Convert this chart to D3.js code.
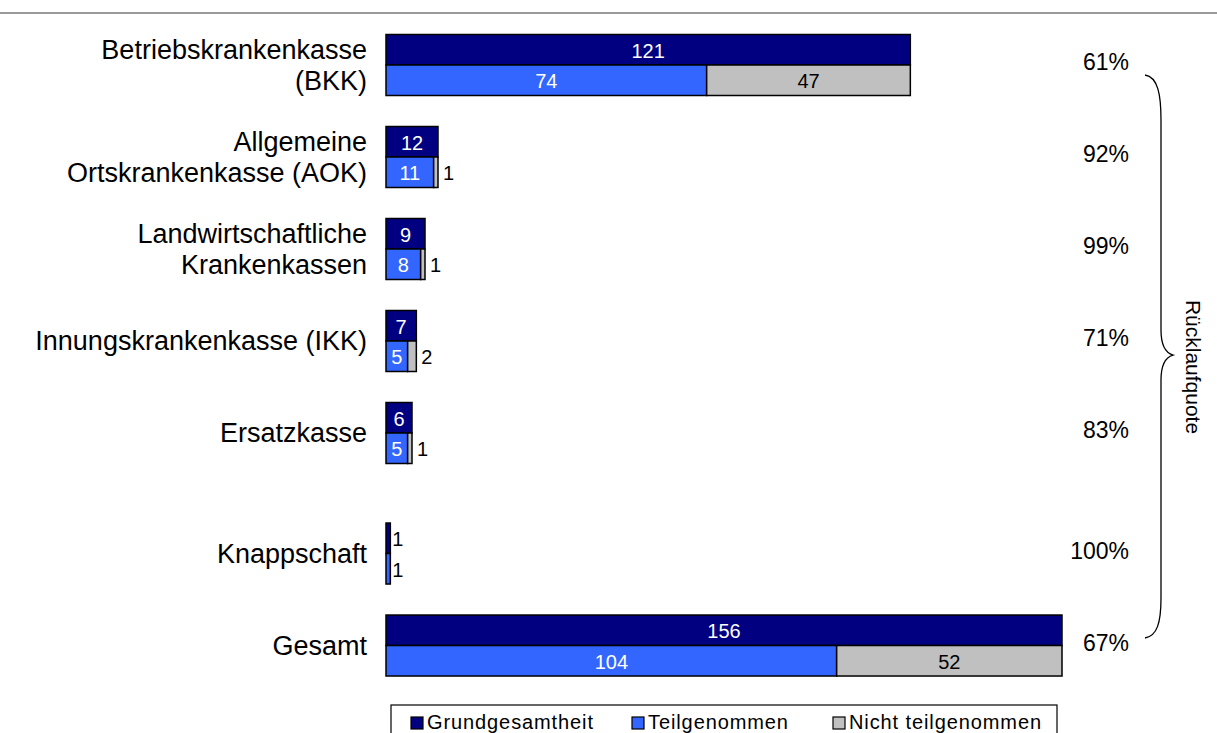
<!DOCTYPE html>
<html>
<head>
<meta charset="utf-8">
<script src="https://cdn.jsdelivr.net/npm/d3@7"></script>
<style>
  html, body { margin: 0; padding: 0; background: #fff; }
  svg { display: block; font-family: "Liberation Sans", Arial, Helvetica, sans-serif; }
</style>
</head>
<body>
<svg id="chart" width="1217" height="733"></svg>
<script>
// ---- data ----
const categories = [
  ["Betriebskrankenkasse", "(BKK)"],
  ["Allgemeine", "Ortskrankenkasse (AOK)"],
  ["Landwirtschaftliche", "Krankenkassen"],
  ["Innungskrankenkasse (IKK)"],
  ["Ersatzkasse"],
  ["Knappschaft"],
  ["Gesamt"]
];
const grundgesamtheit   = [121, 12, 9, 7, 6, 1, 156];
const teilgenommen      = [74, 11, 8, 5, 5, 1, 104];
const nichtTeilgenommen = [47, 1, 1, 2, 1, 0, 52];
const ruecklaufquote    = ["61%", "92%", "99%", "71%", "83%", "100%", "67%"];
const seriesNames       = ["Grundgesamtheit", "Teilgenommen", "Nicht teilgenommen"];
const braceLabel        = "Rücklaufquote";

// ---- layout ----
const W = 1217, H = 733;
const colors = ["#000080", "#3366FF", "#C0C0C0"];
const textColors = ["#fff", "#fff", "#000"];
const rowSlot = [0, 1, 2, 3, 4, 5.31, 6.31];   // visual slot of each row (gap before Knappschaft)
const halfH = 30.5;

const svg = d3.select("#chart");

const x = d3.scaleLinear().domain([0, 156]).range([386, 1062]);
const y = d3.scaleLinear().domain([0, 1]).range([65, 157]);   // row centre by slot

// top rule
svg.append("line")
  .attr("x1", 0).attr("x2", W).attr("y1", 13).attr("y2", 13)
  .attr("stroke", "#9a9a9a").attr("stroke-width", 2);

// build segments
const segs = [];
categories.forEach((c, i) => {
  const cy = y(rowSlot[i]);
  segs.push({ row: i, s: 0, x0: 0, x1: grundgesamtheit[i], v: grundgesamtheit[i], y0: cy - halfH, rowEnd: grundgesamtheit[i] });
  const rowEnd = teilgenommen[i] + nichtTeilgenommen[i];
  segs.push({ row: i, s: 1, x0: 0, x1: teilgenommen[i], v: teilgenommen[i], y0: cy, rowEnd });
  if (nichtTeilgenommen[i] > 0)
    segs.push({ row: i, s: 2, x0: teilgenommen[i], x1: rowEnd, v: nichtTeilgenommen[i], y0: cy, rowEnd });
});

const g = svg.append("g");
g.selectAll("rect.bar").data(segs).join("rect")
  .attr("class", "bar")
  .attr("x", d => x(d.x0))
  .attr("y", d => d.y0)
  .attr("width", d => x(d.x1) - x(d.x0))
  .attr("height", halfH)
  .attr("fill", d => colors[d.s])
  .attr("stroke", "#000")
  .attr("stroke-width", 1.5);

// value labels
g.selectAll("text.val").data(segs).join("text")
  .attr("class", "val")
  .each(function(d) {
    const w = x(d.x1) - x(d.x0);
    const t = d3.select(this);
    if (w >= 16) {
      t.attr("x", (x(d.x0) + x(d.x1)) / 2).attr("text-anchor", "middle").attr("fill", textColors[d.s]);
    } else {
      t.attr("x", x(d.rowEnd) + (d.s === 2 ? 5 : 2)).attr("text-anchor", "start").attr("fill", "#000");
    }
  })
  .attr("y", d => d.y0 + halfH / 2 + 8)
  .attr("font-size", 20)
  .text(d => d.v);

// category labels
const lineH = 31;
categories.forEach((lines, i) => {
  const cy = y(rowSlot[i]);
  const n = lines.length;
  const t = svg.append("text")
    .attr("text-anchor", "end")
    .attr("font-size", 27)
    .attr("fill", "#000");
  lines.forEach((ln, k) => {
    t.append("tspan")
      .attr("x", 367)
      .attr("y", cy - (n - 1) * lineH / 2 + k * lineH + 9)
      .text(ln);
  });
});

// Rücklaufquote percentages
svg.selectAll("text.pct").data(ruecklaufquote).join("text")
  .attr("class", "pct")
  .attr("x", 1129)
  .attr("y", (d, i) => y(rowSlot[i]) - 3 + 8)
  .attr("text-anchor", "end")
  .attr("font-size", 23)
  .attr("fill", "#000")
  .text(d => d);

// brace
const bx = 1161, bTop = 75, bBot = 638, tipY = 355;
const brace = d3.path();
brace.moveTo(1145, bTop);
brace.bezierCurveTo(1158, bTop + 2, bx, bTop + 20, bx, bTop + 45);
brace.lineTo(bx, tipY - 25);
brace.bezierCurveTo(bx, tipY - 8, 1166, tipY - 2, 1173, tipY);
brace.bezierCurveTo(1166, tipY + 2, bx, tipY + 8, bx, tipY + 25);
brace.lineTo(bx, bBot - 40);
brace.bezierCurveTo(bx, bBot - 15, 1157, bBot - 2, 1145, bBot);
svg.append("path")
  .attr("d", brace.toString())
  .attr("fill", "none")
  .attr("stroke", "#000")
  .attr("stroke-width", 1.3);

svg.append("text")
  .attr("transform", "translate(1186,367) rotate(90)")
  .attr("text-anchor", "middle")
  .attr("font-size", 21)
  .attr("fill", "#000")
  .text(braceLabel);

// legend
const leg = svg.append("g");
leg.append("rect")
  .attr("x", 391).attr("y", 705).attr("width", 666).attr("height", 40)
  .attr("fill", "#fff").attr("stroke", "#000").attr("stroke-width", 1.2);
const legX = [411, 632, 833];
seriesNames.forEach((name, i) => {
  leg.append("rect")
    .attr("x", legX[i]).attr("y", 717).attr("width", 12).attr("height", 12)
    .attr("fill", colors[i]).attr("stroke", "#000").attr("stroke-width", 1.2);
  leg.append("text")
    .attr("x", legX[i] + 16).attr("y", 729)
    .attr("font-size", 20)
    .attr("letter-spacing", 0.9)
    .attr("fill", "#000")
    .text(name);
});
</script>
</body>
</html>
